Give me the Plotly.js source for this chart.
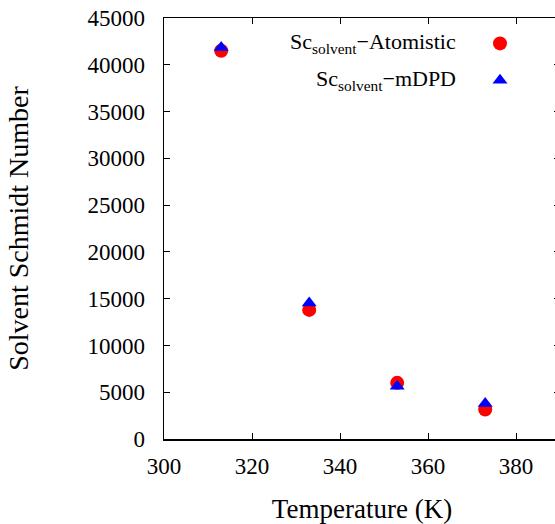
<!DOCTYPE html>
<html>
<head>
<meta charset="utf-8">
<script src="https://cdn.plot.ly/plotly-3.0.1.min.js"></script>
<style>
  html, body { margin: 0; padding: 0; overflow: hidden; background: #fff; }
  #plot { width: 560px; height: 524px; }
</style>
</head>
<body>
<div id="plot"></div>
<script>
// Temperatures (K) and solvent Schmidt numbers for both models
const temperature = [313, 333, 353, 373];
const scAtomistic = [41500, 13800, 6000, 3150];
const scMDPD = [41850, 14550, 5650, 3800];

const labelAtomistic = 'Sc<sub>solvent</sub>\u2212Atomistic';
const labelMDPD = 'Sc<sub>solvent</sub>\u2212mDPD';

const serif = 'Liberation Serif, Times New Roman, serif';

const traces = [
  {
    x: temperature, y: scAtomistic, type: 'scatter', mode: 'markers',
    name: ' ', legendrank: 1,
    marker: { symbol: 'circle', size: 14, color: '#ff0000' }
  },
  {
    x: temperature, y: scMDPD, type: 'scatter', mode: 'markers',
    name: ' ', legendrank: 2,
    marker: { symbol: 'triangle-up', size: 13, color: '#0000ff' }
  }
];

const axisCommon = {
  showline: true, linecolor: '#000', linewidth: 1.5,
  mirror: 'ticks', ticks: 'inside', ticklen: 6, tickwidth: 1, tickcolor: '#000',
  showgrid: false, zeroline: false,
  tickfont: { family: serif, size: 23, color: '#000' }
};

const layout = {
  width: 560, height: 524,
  margin: { l: 164, r: 0, t: 18, b: 85 },
  paper_bgcolor: '#fff', plot_bgcolor: '#fff',
  xaxis: Object.assign({}, axisCommon, {
    range: [300, 390], tick0: 300, dtick: 20,
    ticklabelstandoff: 6,
    title: { text: 'Temperature (K)', font: { family: serif, size: 27, color: '#000' }, standoff: 21 }
  }),
  yaxis: Object.assign({}, axisCommon, {
    range: [0, 45000], tick0: 0, dtick: 5000, tickformat: 'd',
    ticklabelstandoff: 13,
    title: { text: 'Solvent Schmidt Number', font: { family: serif, size: 28, color: '#000' }, standoff: 50 }
  }),
  showlegend: true,
  legend: {
    x: (480 - 164) / 396, xanchor: 'left',
    y: (439 - 20) / 421, yanchor: 'top',
    bgcolor: 'rgba(0,0,0,0)', borderwidth: 0,
    font: { family: serif, size: 26, color: '#000' },
    tracegroupgap: 0
  },
  annotations: [
    { text: labelAtomistic, xref: 'paper', yref: 'paper', x: (458 - 164) / 396, y: (439 - 43) / 421,
      xanchor: 'right', yanchor: 'middle', showarrow: false,
      font: { family: serif, size: 22, color: '#000' } },
    { text: labelMDPD, xref: 'paper', yref: 'paper', x: (458 - 164) / 396, y: (439 - 80) / 421,
      xanchor: 'right', yanchor: 'middle', showarrow: false,
      font: { family: serif, size: 22, color: '#000' } }
  ]
};

Plotly.newPlot('plot', traces, layout, { displayModeBar: false, staticPlot: true });
</script>
</body>
</html>
